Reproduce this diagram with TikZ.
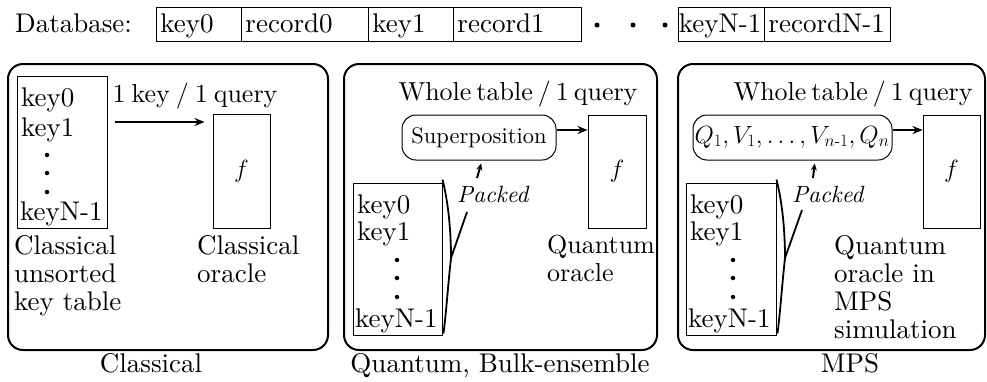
\documentclass[tikz,border=0pt]{standalone}
\usepackage{amsmath}
\usepackage{fontspec}
\setmainfont{lmroman10}[Extension=.otf, UprightFont=*-regular, ItalicFont=*-italic, BoldFont=*-bold, BoldItalicFont=*-bolditalic]
\usetikzlibrary{arrows.meta,calc}
\newcommand\myhdrfont{\fontsize{26}{28}\selectfont\spaceskip=5pt\relax}
\newcommand\myqfont{\fontsize{26}{28}\selectfont\spaceskip=6pt\relax}
\begin{document}
\begin{tikzpicture}[x=1pt,y=-1pt,
  every node/.style={inner sep=0pt, font=\fontsize{27}{28}\selectfont},
  cell/.style={draw, line width=0.9pt, anchor=north west, minimum height=34pt, text height=20pt, text depth=4pt, inner ysep=0pt, inner xsep=4pt, align=left},
  dotnode/.style={circle, fill=black, minimum size=5pt},
  smalldot/.style={circle, fill=black, minimum size=4.5pt},
  panel/.style={draw, line width=2pt, rounded corners=15pt},
  thinbox/.style={draw, line width=0.9pt},
  roundbox/.style={draw, line width=1pt, rounded corners=14pt},
  arr/.style={line width=2pt, -{Stealth[length=10pt,width=8pt]}},
  smallarr/.style={line width=2pt, -{Stealth[length=7pt,width=6pt]}},
  bracel/.style={line width=1.8pt},
  txt/.style={anchor=base west},
  ctxt/.style={anchor=base},
  hdr/.style={anchor=base, font=\myhdrfont},
  ml/.style={anchor=north west, align=left},
  pk/.style={anchor=base west, font=\fontsize{23.5}{26}\selectfont\itshape}
]
\useasboundingbox (0,0) rectangle (987,381);

% ---------- Database row ----------
\node[txt] (dblab) at (15,32) {Database:};
\node[cell, text width=77pt] (c1) at (156,7) {key0};
\node[cell, text width=119pt] (c2) at (241,7) {record0};
\node[cell, text width=77pt] (c3) at (368,7) {key1};
\node[cell, text width=120pt] (c4) at (453,7) {record1};
\node[dotnode] (d1) at (597,25) {};
\node[dotnode] (d2) at (633,25) {};
\node[dotnode] (d3) at (665,25) {};
\node[cell, text width=85pt, inner xsep=0.5pt] (c5) at (678,7) {keyN-1};
\node[cell, text width=118pt] (c6) at (764,7) {recordN-1};

% ---------- Panel 1: Classical ----------
\node[panel, minimum width=320pt, minimum height=286pt] (p1) at (168,207) {};
\node[thinbox, minimum width=90pt, minimum height=152pt] (kt1) at (62,152) {};
\node[txt] (k10) at (21,106) {key0};
\node[txt] (k11) at (21,136) {key1};
\node[smalldot] (k1d1) at (47,155) {};
\node[smalldot] (k1d2) at (47,173) {};
\node[smalldot] (k1d3) at (47,192) {};
\node[txt] (k1n) at (20,220) {keyN-1};
\node[anchor=base, font=\myqfont] (q1) at (195,102) {1 key / 1 query};
\node[thinbox, minimum width=57pt, minimum height=114pt] (or1) at (241.5,171) {$f$};
\coordinate (a1) at (160,122);
\draw[arr, shorten <=8pt, shorten >=8pt] (kt1.east |- a1) -- (or1.west |- a1);
\node[ml] (cl1) at (14,235) {Classical\\unsorted\\key table};
\node[ml] (co1) at (197,235) {Classical\\oracle};
\node[ctxt] (cap1) at (151,372) {Classical};

% ---------- Panel 2: Quantum, Bulk-ensemble ----------
\node[panel, minimum width=313pt, minimum height=286pt] (p2) at (500.5,207) {};
\node[hdr] (q2) at (518,100) {Whole table / 1 query};
\node[roundbox, minimum width=154pt, minimum height=45pt, font=\fontsize{22.5}{24}\selectfont] (sup) at (479,137.5) {Superposition};
\node[thinbox, minimum width=58pt, minimum height=113pt] (or2) at (617,171.5) {$f$};
\coordinate (a2) at (570,130);
\draw[arr] (sup.east |- a2) -- (or2.west |- a2);
\node[ml, font=\fontsize{26}{28}\selectfont] (qo2) at (547,235) {Quantum\\oracle};
\node[thinbox, minimum width=89pt, minimum height=152pt] (kt2) at (397.5,259) {};
\node[txt] (k20) at (357,213) {key0};
\node[txt] (k21) at (357,240) {key1};
\node[smalldot] (k2d1) at (397,260) {};
\node[smalldot] (k2d2) at (397,278) {};
\node[smalldot] (k2d3) at (397,297) {};
\node[txt] (k2n) at (355,327) {keyN-1};
\coordinate (b2) at (451,258);
\coordinate (l2) at (467,212);
\draw[bracel] ($(kt2.north east)+(0,-3)$) .. controls (449,205) and (451,235) .. (b2) .. controls (448,285) and (446,315) .. ($(kt2.south east)+(1,-2)$);
\draw[bracel] (b2) -- (l2);
\node[pk] (pk2) at (457,202) {Packed};
\coordinate (s2) at (477,178);
\draw[smallarr, shorten >=3pt] (s2) -- (sup.south -| 482,0);
\node[ctxt] (cap2) at (500,372) {Quantum, Bulk-ensemble};

% ---------- Panel 3: MPS ----------
\node[panel, minimum width=307pt, minimum height=286pt] (p3) at (831.5,207) {};
\node[hdr] (q3) at (853,100) {Whole table / 1 query};
\node[roundbox, minimum width=199pt, minimum height=45pt] (qb) at (792.5,137.5) {};
\node[font=\fontsize{23}{25}\selectfont] (qt) at (792,137) {$Q_{1}, V_{1}, \ldots, V_{n\text{-}1}, Q_{n}$};
\node[thinbox, minimum width=57pt, minimum height=113pt] (or3) at (951.5,171.5) {$f$};
\coordinate (a3) at (905,130);
\draw[arr] (qb.east |- a3) -- (or3.west |- a3);
\node[ml] (qo3) at (834,235) {Quantum\\oracle in\\MPS\\simulation};
\node[thinbox, minimum width=90pt, minimum height=152pt] (kt3) at (731,259) {};
\node[txt] (k30) at (690,213) {key0};
\node[txt] (k31) at (690,240) {key1};
\node[smalldot] (k3d1) at (733,260) {};
\node[smalldot] (k3d2) at (733,278) {};
\node[smalldot] (k3d3) at (733,297) {};
\node[txt] (k3n) at (688,327) {keyN-1};
\coordinate (b3) at (785,258);
\coordinate (l3) at (802,210);
\draw[bracel] ($(kt3.north east)+(0,-3)$) .. controls (783,205) and (785,235) .. (b3) .. controls (782,285) and (780,315) .. ($(kt3.south east)+(1,-2)$);
\draw[bracel] (b3) -- (l3);
\node[pk] (pk3) at (792,202) {Packed};
\coordinate (s3) at (813,178);
\draw[smallarr, shorten >=3pt] (s3) -- (qb.south -| 815,0);
\node[ctxt] (cap3) at (850,372) {MPS};
\end{tikzpicture}
\end{document}
